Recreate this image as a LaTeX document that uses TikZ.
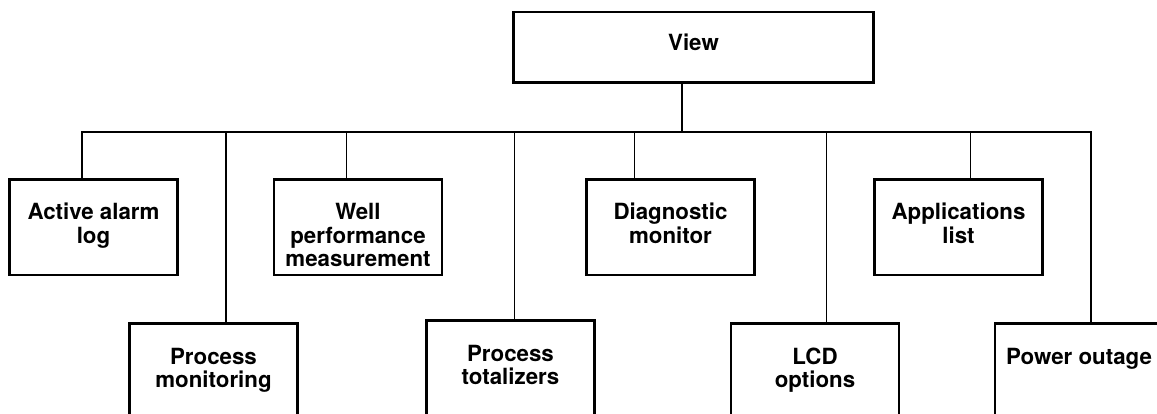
\documentclass[tikz,border=0pt]{standalone}
\usepackage{fontspec}
\setsansfont{TeX Gyre Heros}
\usepackage{tikz}
\usetikzlibrary{positioning}
\newcommand{\menulines}[1]{\begin{tabular}[t]{@{}c@{}}#1\end{tabular}}

\begin{document}
\begin{tikzpicture}[x=1pt, y=-1pt]
    \tikzstyle{menubox} = [rectangle, draw=black, line width=2.8pt, outer sep=0pt, inner sep=0pt, minimum width=168pt, text height=40.5pt, text depth=55pt, font=\sffamily\bfseries\fontsize{22.3}{23.4}\selectfont]
    \tikzstyle{rootbox} = [menubox, minimum width=360.5pt, text height=39pt, text depth=31.5pt]
    \tikzstyle{wire} = [line width=1.7pt]

    \useasboundingbox (0,0) rectangle (1157,414);
    \clip (0,0) rectangle (1157,414);

    \node (view) [rootbox, anchor=north] at (693.5,12) {View};

    \node (alarm) [menubox, anchor=north west] at (9.5,179.5) {\menulines{Active alarm\\log}};
    \node (well) [menubox, right=96.5pt of alarm] {\menulines{Well\\performance\\measurement}};
    \node (diag) [menubox, right=144.5pt of well] {\menulines{Diagnostic\\monitor}};
    \node (apps) [menubox, right=120pt of diag] {\menulines{Applications\\list}};

    \node (procmon) [menubox, anchor=north west] at (129.5,323.5) {\menulines{Process\\monitoring}};
    \node (totals) [menubox, right=129pt of procmon, yshift=3pt] {\menulines{Process\\totalizers}};
    \node (lcd) [menubox, right=136.5pt of totals, yshift=-3pt] {\menulines{LCD\\options}};
    \node (power) [menubox, right=96pt of lcd] {Power outage};

    \coordinate (bus) at (682,132);

    \draw [wire] ([xshift=-11.5pt]view.south) -- (bus);
    \draw [wire] ([xshift=-11.5pt]alarm.north) |- (bus);
    \draw [wire] ([xshift=12.5pt]procmon.north) |- (bus);
    \draw [wire] ([xshift=-11.5pt]well.north) |- (bus);
    \draw [wire] ([xshift=4pt]totals.north) |- (bus);
    \draw [wire] ([xshift=-36pt]diag.north) |- (bus);
    \draw [wire] ([xshift=11.5pt]lcd.north) |- (bus);
    \draw [wire] ([xshift=12pt]apps.north) |- (bus);
    \draw [wire] ([xshift=12pt]power.north) |- (bus);

\end{tikzpicture}
\end{document}
